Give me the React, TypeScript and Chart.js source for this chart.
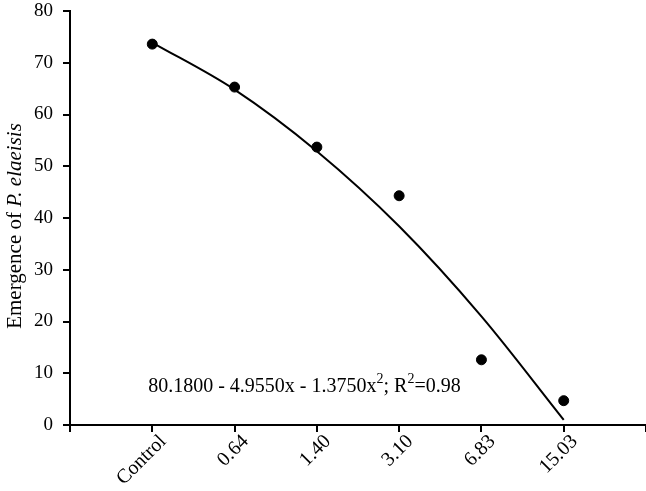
import React, { useEffect, useRef } from "react";
import { Chart, registerables } from "chart.js";

Chart.register(...registerables);

const categories = ["Control", "0.64", "1.40", "3.10", "6.83", "15.03"];
const emergence = [73.6, 65.3, 53.7, 44.3, 12.6, 4.7];
const fittedCurve = [73.9, 64.8, 52.9, 38.4, 21.0, 1.0];
const yTicks = [0, 10, 20, 30, 40, 50, 60, 70, 80];
const equationParts = [
  { t: "80.1800 - 4.9550x - 1.3750x", sup: false },
  { t: "2", sup: true },
  { t: "; R", sup: false },
  { t: "2", sup: true },
  { t: "=0.98", sup: false },
];
const yTitleParts = [
  { t: "Emergence of ", italic: false },
  { t: "P. elaeisis", italic: true },
];

const FONT = "'Liberation Serif', 'Times New Roman', serif";

const textPlugin = {
  id: "textPlugin",
  afterDraw(chart: any) {
    const ctx = chart.ctx;
    const xs = chart.scales.x;
    const ys = chart.scales.y;
    // y title
    ctx.save();
    ctx.fillStyle = "#000";
    ctx.textBaseline = "middle";
    ctx.textAlign = "left";
    const fonts = yTitleParts.map((p) => (p.italic ? "italic " : "") + "21px " + FONT);
    let total = 0;
    yTitleParts.forEach((p, i) => {
      ctx.font = fonts[i];
      total += ctx.measureText(p.t).width;
    });
    ctx.translate(15, 226);
    ctx.rotate(-Math.PI / 2);
    let x = -total / 2;
    yTitleParts.forEach((p, i) => {
      ctx.font = fonts[i];
      ctx.fillText(p.t, x, 0);
      x += ctx.measureText(p.t).width;
    });
    ctx.restore();

    // equation
    ctx.save();
    ctx.fillStyle = "#000";
    ctx.textBaseline = "alphabetic";
    ctx.textAlign = "left";
    let ex = xs.getPixelForValue(0.95);
    const ey = ys.getPixelForValue(6.4);
    equationParts.forEach((p) => {
      ctx.font = (p.sup ? "14px " : "20px ") + FONT;
      ctx.fillText(p.t, ex, p.sup ? ey - 9 : ey);
      ex += ctx.measureText(p.t).width;
    });
    ctx.restore();
  },
};

export default function App() {
  const ref = useRef<HTMLCanvasElement>(null);
  useEffect(() => {
    const chart = new Chart(ref.current!, {
      type: "scatter",
      data: {
        datasets: [
          {
            type: "line",
            data: fittedCurve.map((v, i) => ({ x: i + 1, y: v })),
            borderColor: "#000",
            borderWidth: 2,
            pointRadius: 0,
            cubicInterpolationMode: "monotone",
            fill: false,
          } as any,
          {
            type: "scatter",
            data: emergence.map((v, i) => ({ x: i + 1, y: v })),
            backgroundColor: "#000",
            borderColor: "#000",
            pointRadius: 5,
          },
        ],
      },
      options: {
        animation: false,
        responsive: true,
        maintainAspectRatio: false,
        layout: { padding: { top: 11, right: 1, left: 0, bottom: 0 } },
        plugins: { legend: { display: false }, tooltip: { enabled: false } },
        scales: {
          x: {
            type: "linear",
            min: 0,
            max: categories.length + 1,
            afterFit: (s: any) => {
              s.height = 66;
              s.paddingLeft = 0;
              s.paddingRight = 0;
            },
            afterBuildTicks: (s: any) => {
              s.ticks = Array.from({ length: categories.length + 2 }, (_, i) => ({ value: i }));
            },
            ticks: {
              stepSize: 1,
              autoSkip: false,
              minRotation: 45,
              maxRotation: 45,
              color: "#000",
              padding: -2,
              labelOffset: 11,
              font: { family: FONT, size: 20 },
              callback: (v: any) => categories[Number(v) - 1] ?? "",
            },
            grid: {
              drawOnChartArea: false,
              drawTicks: true,
              tickLength: 7,
              color: "#000",
              lineWidth: 2,
            },
            border: { color: "#000", width: 2 },
          },
          y: {
            min: 0,
            max: 80,
            afterFit: (s: any) => {
              s.width = 70;
              s.paddingTop = 0;
              s.paddingBottom = 0;
            },
            afterBuildTicks: (s: any) => {
              s.ticks = yTicks.map((v) => ({ value: v }));
            },
            ticks: {
              color: "#000",
              padding: 10,
              font: { family: FONT, size: 19 },
            },
            grid: {
              drawOnChartArea: false,
              drawTicks: true,
              tickLength: 7,
              color: "#000",
              lineWidth: 2,
            },
            border: { color: "#000", width: 2 },
          },
        },
      },
      plugins: [textPlugin],
    });
    return () => chart.destroy();
  }, []);
  return (
    <div style={{ position: "absolute", left: 0, top: 0, width: 646, height: 491, overflow: "hidden", background: "#fff" }}>
      <div style={{ position: "relative", width: 652, height: 491 }}>
        <canvas ref={ref} />
      </div>
    </div>
  );
}
